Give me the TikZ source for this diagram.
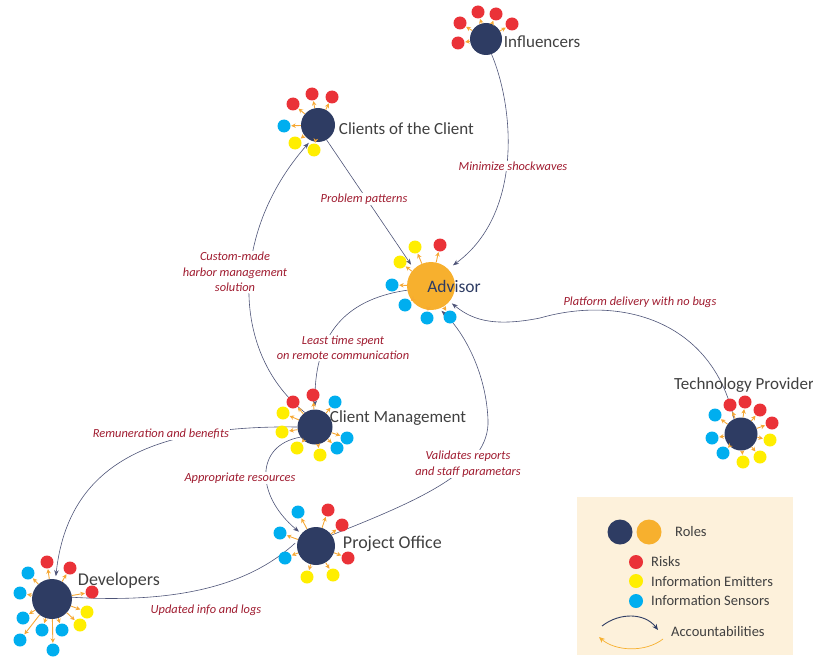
\documentclass[tikz,border=0pt]{standalone}
\usepackage{fontspec}
\setmainfont{Carlito}
\usetikzlibrary{arrows.meta,positioning,calc}

\definecolor{rolenavy}{RGB}{46,60,99}
\definecolor{roleorange}{RGB}{247,176,46}
\definecolor{riskred}{RGB}{234,50,56}
\definecolor{emityellow}{RGB}{255,238,0}
\definecolor{sensblue}{RGB}{0,174,239}
\definecolor{satorange}{RGB}{246,168,52}
\definecolor{linkgray}{RGB}{78,84,120}
\definecolor{labelred}{RGB}{160,28,48}
\definecolor{textgray}{RGB}{64,64,64}
\definecolor{legendbg}{RGB}{253,241,219}

\begin{document}
\begin{tikzpicture}[x=1pt,y=1pt,yscale=-1,xscale=1,
  role/.style={circle,fill=rolenavy,inner sep=0pt},
  dot/.style={circle,inner sep=0pt,minimum size=13},
  sat/.style={draw=satorange,line width=0.9pt,shorten >=0.5pt,-{Stealth[length=4.5pt,width=4.5pt]}},
  link/.style={draw=linkgray,line width=0.6pt,shorten >=3pt,-{Stealth[length=6pt,width=4.5pt]}},
  rolename/.style={text=textgray,inner sep=0.75pt,font=\fontsize{17}{20}\selectfont},
  linklabel/.style={text=labelred,fill=white,inner sep=1pt,align=center,font=\fontsize{12.4}{15.5}\selectfont\itshape},
  legendtext/.style={text=textgray,anchor=west,inner sep=0pt,font=\fontsize{14.5}{17}\selectfont}]
\path[use as bounding box] (0,0) rectangle (813,658);

%Roles
\node[role,minimum size=32] (inf) at (486,39) {};
\node[role,minimum size=34] (cc) at (318,125) {};
\node[role,fill=roleorange,minimum size=48] (adv) at (431,286) {};
\node[role,minimum size=35] (cm) at (315,427) {};
\node[role,minimum size=38] (po) at (316,546) {};
\node[role,minimum size=40] (dev) at (52,599) {};
\node[role,minimum size=33] (tp) at (741,434) {};

%Accountabilities
\draw[link,shorten >=6pt] (inf.290) .. controls (515,110) and (522,215) .. (adv.45);
\draw[link,shorten >=5pt] (cc.300) -- (adv.135);
\draw[link] (cm.125) .. controls (232,355) and (228,235) .. (cc.245);
\draw[link] (adv.190) .. controls (340,300) and (314,340) .. (cm.north);
\draw[link] (tp.115) .. controls (712,320) and (620,295) .. (540,318) .. controls (490,328) and (470,318) .. (adv.320);
\draw[link] (po.35) .. controls (420,500) and (490,470) .. (488,420) .. controls (486,370) and (462,330) .. (adv.290);
\draw[link] (cm.215) .. controls (255,445) and (255,495) .. (po.140);
\draw[link] (cm.west) .. controls (150,425) and (68,465) .. (dev.80);
\draw[link,-] (dev.5) .. controls (200,605) and (260,575) .. (po.165);

%Risks, emitters and sensors
\foreach \x/\y/\c [count=\i] in {478/12/riskred,496/14/riskred,512/24/riskred,460/23/riskred,458/43/riskred}
  {\node[dot,fill=\c] (inf-\i) at (\x,\y) {};
   \draw[sat] (inf) -- (inf-\i);}
\foreach \x/\y/\c [count=\i] in {312/94/riskred,332/97/riskred,293/104/riskred,284/126/sensblue,295/143/emityellow,314/150/emityellow}
  {\node[dot,fill=\c] (cc-\i) at (\x,\y) {};
   \draw[sat] (cc) -- (cc-\i);}
\foreach \x/\y/\c [count=\i] in {415/247/emityellow,440/245/riskred,400/262/emityellow,392/285/sensblue,405/305/sensblue,427/318/sensblue,450/317/sensblue}
  {\node[dot,fill=\c] (adv-\i) at (\x,\y) {};
   \draw[sat] (adv) -- (adv-\i);}
\foreach \x/\y/\c [count=\i] in {293/402/riskred,313/395/riskred,335/402/sensblue,283/413/emityellow,282/432/emityellow,297/448/emityellow,320/455/emityellow,337/448/sensblue,347/438/sensblue}
  {\node[dot,fill=\c] (cm-\i) at (\x,\y) {};
   \draw[sat] (cm) -- (cm-\i);}
\foreach \x/\y/\c [count=\i] in {298/512/sensblue,280/533/sensblue,285/558/sensblue,328/510/riskred,342/525/riskred,348/558/riskred,307/577/emityellow,333/575/emityellow}
  {\node[dot,fill=\c] (po-\i) at (\x,\y) {};
   \draw[sat] (po) -- (po-\i);}
\foreach \x/\y/\c [count=\i] in {47/562/riskred,70/568/riskred,92/592/riskred,28/573/sensblue,20/593/sensblue,23/618/sensblue,42/630/sensblue,62/630/sensblue,20/640/sensblue,53/650/sensblue,87/612/emityellow,80/625/emityellow}
  {\node[dot,fill=\c] (dev-\i) at (\x,\y) {};
   \draw[sat] (dev) -- (dev-\i);}
\foreach \x/\y/\c [count=\i] in {730/405/riskred,745/402/riskred,760/410/riskred,772/423/riskred,715/415/sensblue,712/438/sensblue,723/453/sensblue,770/440/emityellow,760/457/emityellow,743/462/emityellow}
  {\node[dot,fill=\c] (tp-\i) at (\x,\y) {};
   \draw[sat] (tp) -- (tp-\i);}

% Text Node
\node[rolename,anchor=west] (inf-name) at (503,42) {Influencers};
\node[rolename,anchor=west] (cc-name) at (338,129) {Clients of the Client};
\node[rolename,text=rolenavy,font=\fontsize{17.5}{20}\selectfont] (adv-name) at (454,286) {Advisor};
\node[rolename,anchor=west] (cm-name) at (329,418) {Client Management};
\node[rolename,anchor=west,font=\fontsize{18}{21}\selectfont] (po-name) at (342,544) {Project Office};
\node[rolename,anchor=west,font=\fontsize{18}{21}\selectfont] (dev-name) at (77,581) {Developers};
\node[rolename] (tp-name) at (744,385) {Technology Provider};

% Text Node
\node[linklabel] (minimize) at (513,166) {Minimize shockwaves};
\node[linklabel] (patterns) at (364,199) {Problem patterns};
\node[linklabel] (custom) at (235,272) {Custom-made\\harbor management\\solution};
\node[linklabel] (leasttime) at (343,348) {Least time spent\\on remote communication};
\node[linklabel] (platform) at (640,302) {Platform delivery with no bugs};
\node[linklabel] (remuneration) at (161,434) {Remuneration and benefits};
\node[linklabel] (validates) at (468,464) {Validates reports\\and staff parametars};
\node[linklabel] (resources) at (240,478) {Appropriate resources};
\node[linklabel] (updated) at (206,610) {Updated info and logs};

%Legend
\fill[legendbg] (577,497) rectangle (793,655);
\node[role,minimum size=25] (leg-navy) at (620,532) {};
\node[role,fill=roleorange,minimum size=25] (leg-orange) at (649,532) {};
\node[legendtext] (leg-roles) at (675,532) {Roles};
\node[dot,fill=riskred,minimum size=14] (leg-red) at (636,562) {};
\node[dot,fill=emityellow,minimum size=14] (leg-yellow) at (636,581) {};
\node[dot,fill=sensblue,minimum size=14] (leg-blue) at (636,601) {};
\node[legendtext] (leg-risks) at (651,562) {Risks};
\node[legendtext] (leg-emit) at (651,582) {Information Emitters};
\node[legendtext] (leg-sens) at (651,601) {Information Sensors};
\coordinate (acc-a) at (602,626);
\coordinate (acc-b) at (658,630);
\coordinate (acc-c) at (663,639);
\coordinate (acc-d) at (599,637);
\draw[draw=rolenavy,line width=0.9pt,-{Stealth[length=6pt,width=5pt]}] (acc-a) .. controls (620,612) and (645,613) .. (acc-b);
\draw[draw=roleorange,line width=0.7pt,-{Stealth[length=6pt,width=5pt]}] (acc-c) .. controls (645,653) and (615,651) .. (acc-d);
\node[legendtext] (leg-acc) at (671,632) {Accountabilities};

\end{tikzpicture}
\end{document}
